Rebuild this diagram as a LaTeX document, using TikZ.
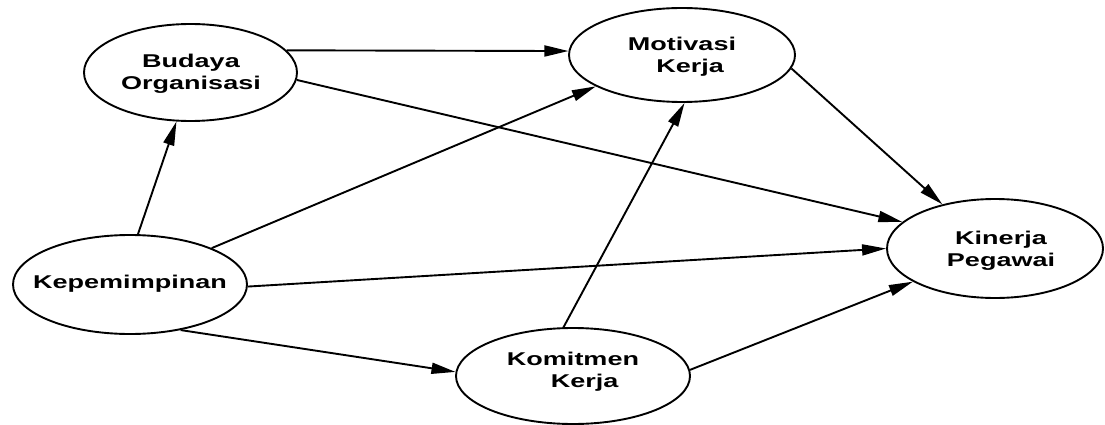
\documentclass[tikz,border=0pt]{standalone}
\usepackage{fontspec}
\setmainfont{Liberation Sans}
\usetikzlibrary{shapes.geometric,arrows.meta}
\newcommand{\wtext}[1]{\scalebox{1.46}[1]{\begin{tabular}{@{}c@{}}#1\end{tabular}}}
\tikzset{
  var/.style={draw=black, line width=1.9pt, ellipse, inner sep=0pt},
  lbl/.style={inner sep=0pt, font=\fontsize{18.5}{21.5}\selectfont\bfseries},
  link/.style={line width=1.9pt, -{Triangle[length=24pt,width=11pt]}}
}
\begin{document}
\begin{tikzpicture}[x=1pt,y=-1pt]
\useasboundingbox (0,0) rectangle (1105,425);
\node[var, minimum width=213pt, minimum height=97pt] (b) at (190.5,72.5) {};
\node[var, minimum width=226pt, minimum height=94pt] (m) at (682,55) {};
\node[var, minimum width=216pt, minimum height=99pt] (k) at (995,248.5) {};
\node[var, minimum width=234pt, minimum height=99pt] (p) at (130,284.5) {};
\node[var, minimum width=234pt, minimum height=96pt] (c) at (573,376) {};
\node[lbl] (bt) at (191,74) {\wtext{Budaya\\Organisasi}};
\node[lbl] (mt) at (682,57) {\wtext{Motivasi\\\hspace{11pt}Kerja}};
\node[lbl] (kt) at (1001,251) {\wtext{Kinerja\\Pegawai}};
\node[lbl] (pt) at (130,284.5) {\wtext{Kepemimpinan}};
\node[lbl] (ct) at (573,372) {\wtext{Komitmen\\\hspace{16pt}Kerja}};
\draw[link] (p.81) -- (b.254.7);
\draw[link] (b.13.6) -- (m.178);
\draw[link] (b.356.5) -- (k.164.5);
\draw[link] (p.24.6) -- (m.200.2);
\draw[link] (p.359.3) -- (k.180.3);
\draw[link] (p.318.7) -- (c.178);
\draw[link] (c.101.5) -- (m.273.5);
\draw[link] (c.3.9) -- (k.202.2);
\draw[link] (m.353.8) -- (k.140.6);
\end{tikzpicture}
\end{document}
